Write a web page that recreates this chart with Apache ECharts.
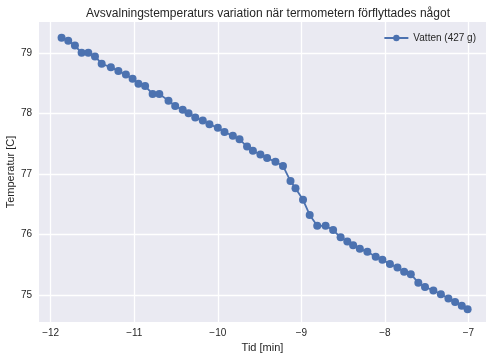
<!DOCTYPE html>
<html><head><meta charset="utf-8">
<script src="https://cdn.jsdelivr.net/npm/echarts@6/dist/echarts.min.js"></script>
<style>html,body{margin:0;padding:0;background:#fff}#c{width:492px;height:361px}</style>
</head><body><div id="c"></div>
<script>
const timeMin = [-11.87,-11.79,-11.71,-11.63,-11.55,-11.47,-11.39,-11.28,-11.19,-11.10,-11.02,-10.95,-10.87,-10.78,-10.70,-10.59,-10.51,-10.42,-10.35,-10.27,-10.18,-10.10,-10.00,-9.92,-9.82,-9.74,-9.65,-9.58,-9.49,-9.41,-9.31,-9.22,-9.13,-9.07,-8.98,-8.90,-8.81,-8.71,-8.62,-8.53,-8.45,-8.38,-8.30,-8.21,-8.11,-8.03,-7.94,-7.85,-7.77,-7.69,-7.60,-7.52,-7.42,-7.33,-7.24,-7.16,-7.08,-7.01];
const tempC = [79.25,79.20,79.12,79.00,79.00,78.94,78.82,78.76,78.70,78.64,78.57,78.49,78.45,78.32,78.32,78.21,78.12,78.06,78.00,77.93,77.88,77.82,77.76,77.69,77.63,77.57,77.45,77.38,77.32,77.26,77.20,77.13,76.88,76.76,76.57,76.32,76.14,76.14,76.07,75.95,75.88,75.82,75.76,75.71,75.63,75.58,75.51,75.45,75.38,75.34,75.20,75.13,75.07,75.01,74.94,74.88,74.82,74.76];
const xTicks = [-12,-11,-10,-9,-8,-7];
const yTicks = [75,76,77,78,79];
const seriesName = 'Vatten (427 g)';
const titleText = 'Avsvalningstemperaturs variation när termometern förflyttades något';

const fmt = v => (v < 0 ? '\u2212' + Math.abs(v) : String(v));
const font = 'Liberation Sans, Arial, sans-serif';
const chart = echarts.init(document.getElementById('c'), null, {renderer:'canvas'});
chart.setOption({
  animation: false,
  backgroundColor: '#ffffff',
  title: {text: titleText, left: 263, top: 3, textAlign: 'center',
    textStyle: {fontFamily: font, fontSize: 12, fontWeight: 'normal', color: '#262626'}},
  legend: {right: 11, top: 28, itemWidth: 24, itemHeight: 8, itemGap: 6,
    textStyle: {fontFamily: font, fontSize: 10, color: '#262626'},
    data: [seriesName]},
  grid: {left: 39, right: 6, top: 22, bottom: 39, backgroundColor: '#EAEAF2', show: true, borderWidth: 0,
    outerBoundsMode: 'none', containLabel: false},
  xAxis: {type: 'value', min: -12.14, max: -6.79,
    name: 'Tid [min]', nameLocation: 'middle', nameGap: 16,
    nameTextStyle: {fontFamily: font, fontSize: 11, color: '#262626'},
    axisLine: {show: false}, axisTick: {show: false, customValues: xTicks},
    axisLabel: {formatter: fmt, margin: 6,
      fontFamily: font, fontSize: 10, color: '#262626',
      customValues: xTicks},
    splitLine: {show: true, lineStyle: {color: '#ffffff', width: 1.3}}},
  yAxis: {type: 'value', min: 74.55, max: 79.51,
    name: 'Temperatur [C]', nameLocation: 'middle', nameGap: 23, nameMoveOverlap: false,
    nameTextStyle: {fontFamily: font, fontSize: 11, color: '#262626'},
    axisLine: {show: false}, axisTick: {show: false, customValues: yTicks},
    axisLabel: {margin: 7,
      fontFamily: font, fontSize: 10, color: '#262626',
      customValues: yTicks},
    splitLine: {show: true, lineStyle: {color: '#ffffff', width: 1.3}}},
  series: [{
    name: seriesName, type: 'line',
    data: timeMin.map((t, i) => [t, tempC[i]]),
    symbol: 'circle', symbolSize: 8, showSymbol: true,
    itemStyle: {color: '#4C72B0'},
    lineStyle: {color: '#4C72B0', width: 1.8}
  }]
});
</script></body></html>
